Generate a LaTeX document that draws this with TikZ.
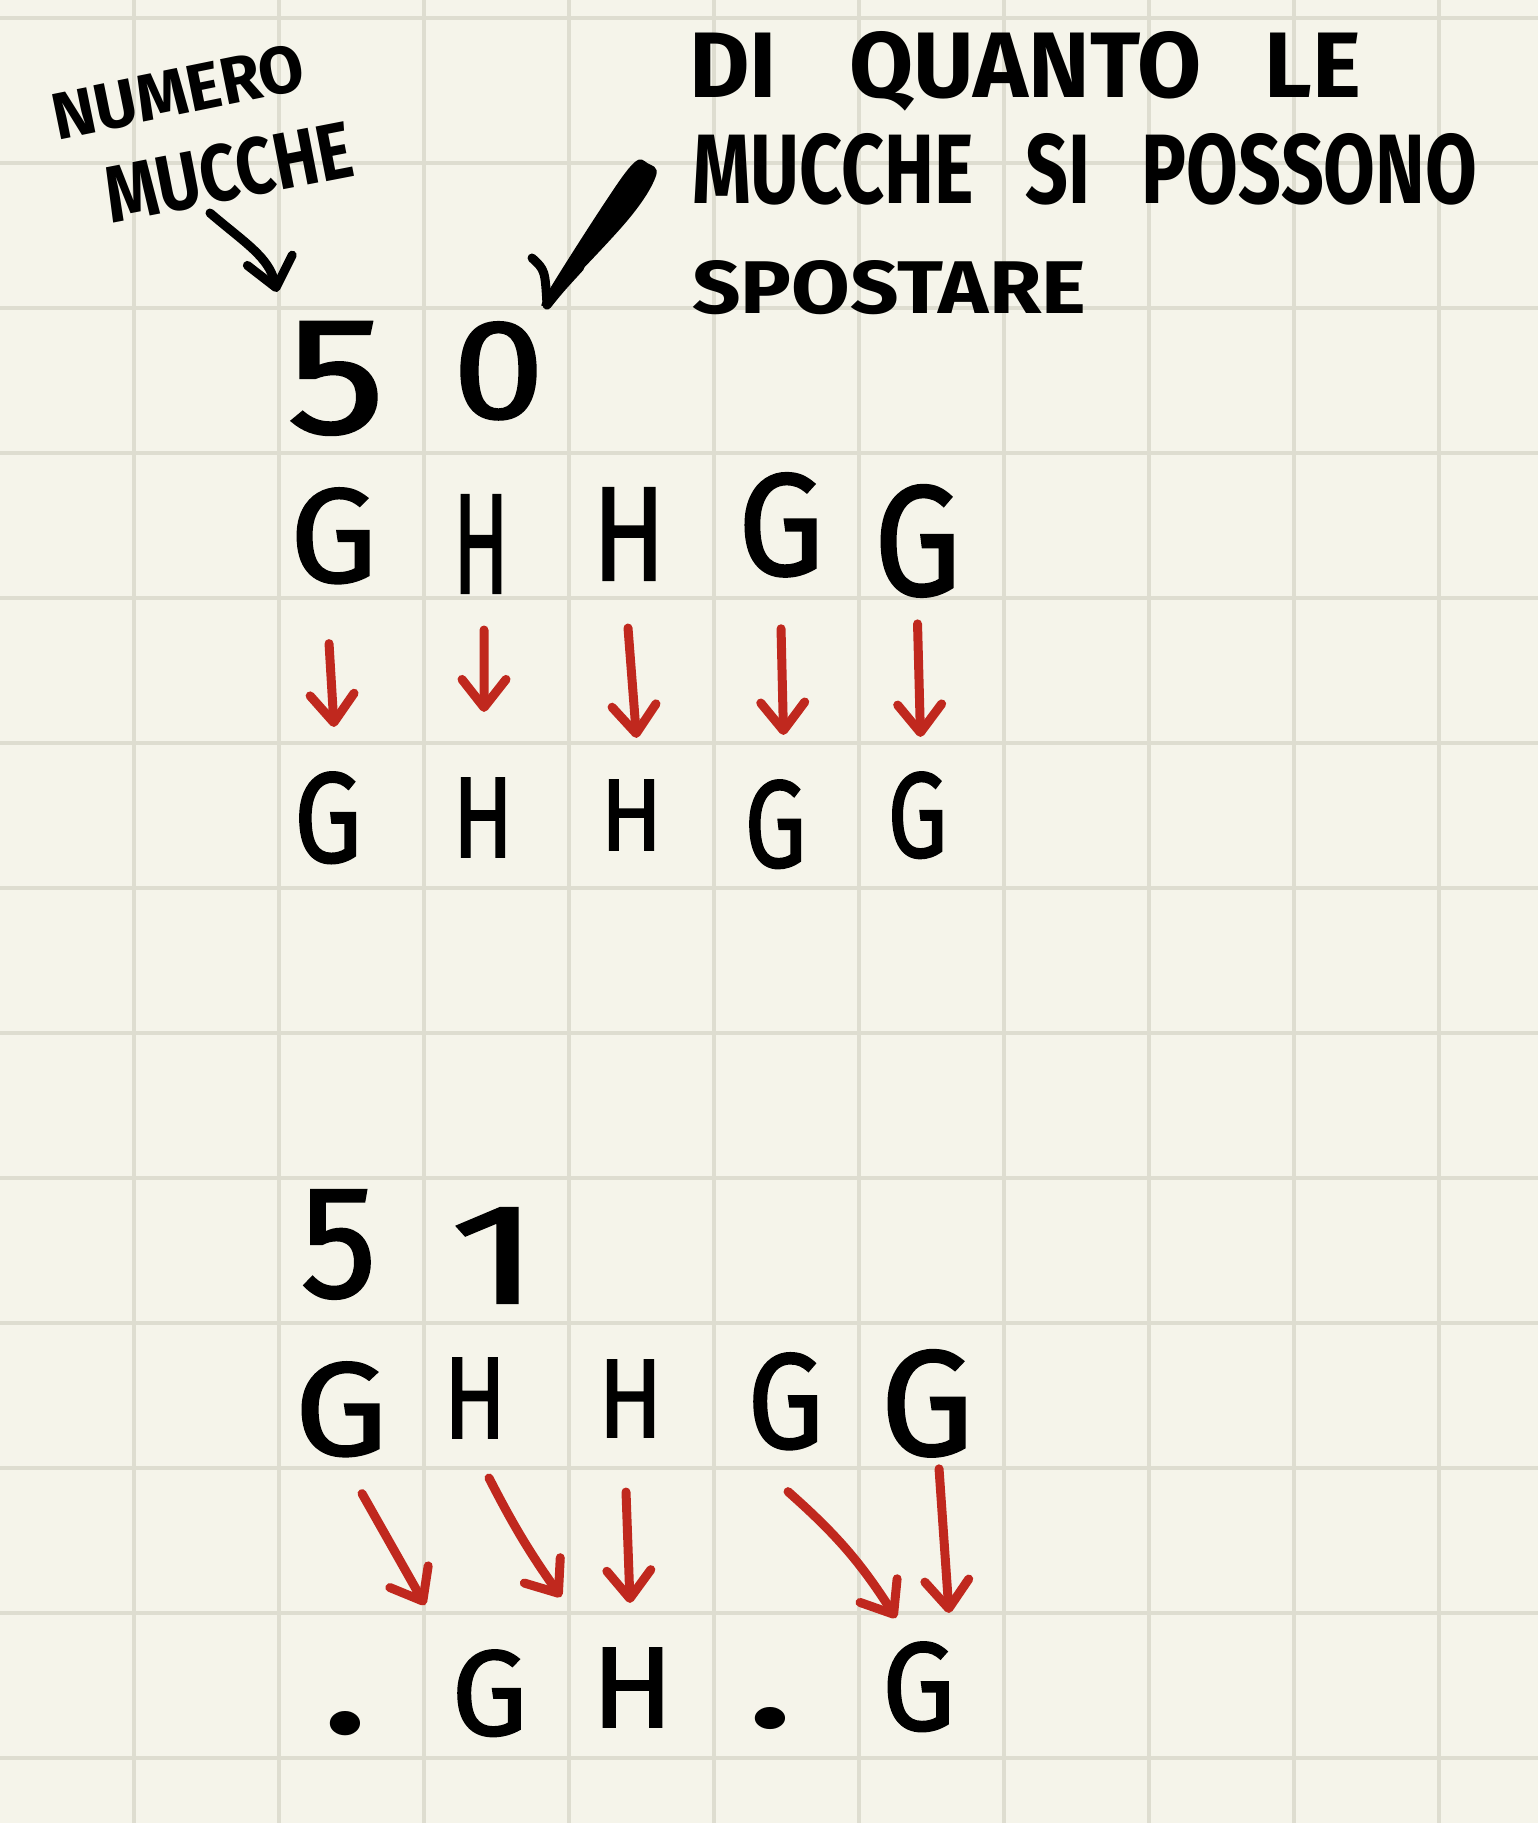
\documentclass[tikz,border=0pt]{standalone}
\usepackage{fontspec}
\setmainfont{Fira Sans}
\usetikzlibrary{arrows.meta,calc}
\definecolor{paper}{RGB}{245,244,234}
\definecolor{gridc}{RGB}{222,221,208}
\definecolor{inkred}{RGB}{192,40,30}
\newcommand\fb[3]{\resizebox{#1pt}{#2pt}{#3}}
\begin{document}
\begin{tikzpicture}[x=1pt,y=-1pt,
  hand/.style={inner sep=0pt, outer sep=0pt, anchor=base west, font=\bfseries},
  glyph/.style={inner sep=0pt, outer sep=0pt, anchor=base west, font=\addfontfeature{FakeBold=1.5}},
  tilted/.style={inner sep=0pt, outer sep=0pt, anchor=center, font=\bfseries},
  redarr/.style={draw=inkred, line width=9pt, line cap=round, -{Straight Barb[length=28pt,width=44pt,round]}},
  blackarr/.style={draw=black, line width=9pt, line cap=round, -{Straight Barb[length=28pt,width=46pt,round]}},
  gridline/.style={draw=gridc, line width=4pt}]
\fill[paper] (0,0) rectangle (1538,1823);
\useasboundingbox (0,0) rectangle (1538,1823);
\foreach \i in {0,...,9} \draw[gridline] (133.5+145*\i,0) -- (133.5+145*\i,1823);
\foreach \j in {0,...,12} \draw[gridline] (0,17.5+145*\j) -- (1538,17.5+145*\j);

% labels
\node[tilted, rotate=11.5] (numero) at (178,92) {\fb{256}{47}{NUMERO}};
\node[tilted, rotate=11] (mucche) at (229,172) {\fb{250}{57}{MUCCHE}};
\node[hand] (q1) at (689,97) {\fb{672}{66}{DI\ \hspace{0.55em}QUANTO\ \hspace{0.45em}LE}};
\node[hand] (q2) at (692,203) {\fb{785}{70}{MUCCHE\ \hspace{0.45em}SI\ \hspace{0.45em}POSSONO}};
\node[hand] (q3) at (692,313) {\fb{394}{53}{SPOSTARE}};

% first example
\node[glyph] (fivea) at (287,433) {\fb{98}{111}{5}};
\node[glyph] (zero) at (452.5,418) {\fb{92}{96}{0}};
\node[glyph] (r1c1) at (290,582) {\fb{87}{94}{G}};
\node[glyph] (r1c2) at (453,593) {\fb{56}{98}{H}};
\node[glyph] (r1c3) at (592.5,580) {\fb{73}{92}{H}};
\node[glyph] (r1c4) at (738,575) {\fb{86}{102}{G}};
\node[glyph] (r1c5) at (874,595) {\fb{87}{110}{G}};
\node[glyph] (r2c1) at (294,862) {\fb{68}{90}{G}};
\node[glyph] (r2c2) at (452.5,857) {\fb{61}{79}{H}};
\node[glyph] (r2c3) at (600.5,850) {\fb{62}{70}{H}};
\node[glyph] (r2c4) at (744.5,867) {\fb{62}{87}{G}};
\node[glyph] (r2c5) at (887.5,857) {\fb{60}{85}{G}};

% second example
\node[glyph] (fiveb) at (300.5,1297) {\fb{76}{107}{5}};
\node[glyph] (one) at (450,1303) {\fb{90}{95}{1}};
\node[glyph] (r3c1) at (294.5,1455) {\fb{93}{93}{G}};
\node[glyph] (r3c2) at (443.5,1438) {\fb{63}{80}{H}};
\node[glyph] (r3c3) at (598,1437) {\fb{65}{77}{H}};
\node[glyph] (r3c4) at (747.5,1448) {\fb{76}{95}{G}};
\node[glyph] (r3c5) at (880.5,1455) {\fb{93}{105}{G}};
\node[hand] (r5c1) at (325,1733) {\fb{40}{22}{.}};
\node[glyph] (r5c2) at (451.5,1735) {\fb{76}{85}{G}};
\node[glyph] (r5c3) at (591.5,1727) {\fb{82}{79}{H}};
\node[hand] (r5c4) at (750,1727) {\fb{40}{20}{.}};
\node[glyph] (r5c5) at (882,1730) {\fb{73}{88}{G}};

% black arrows
\draw[blackarr] ($(mucche.center)+(-19,41)$) .. controls +(35,30) and +(-8,-35) .. ($(fivea.north)+(-59,-30)$);
\coordinate (chkTop) at ($(q2.west)+(-49,1)$);
\coordinate (chkTip) at ($(zero.north)+(48.5,-17)$);
\fill[black] plot[smooth cycle, tension=0.6] coordinates {
  ($(chkTop)+(4.6,-6.5)$) ($(chkTop)+(13,6)$) ($(chkTop)+(-15,50)$)
  ($(chkTip)+(5,-4)$) ($(chkTip)+(1,-2)$) ($(chkTip)+(-2,-8)$)
  ($(chkTop)+(-39,34)$) ($(chkTop)+(-9,-7)$)};
\draw[black, line width=9pt, line cap=round, line join=round]
  ($(chkTip)+(-15,-47)$) .. controls ($(chkTip)+(-2,-35)$) .. (chkTip)
  .. controls ($(chkTip)+(12,-15)$) .. ($(chkTip)+(33,-38)$);

% red arrows, first example
\draw[redarr] ($(r1c1.south)+(-4.5,60)$) -- ($(r2c1.north)+(6,-45)$);
\draw[redarr] ($(r1c2.south)+(3,37)$) -- ($(r2c2.north)+(1,-66)$);
\draw[redarr] ($(r1c3.south)+(-1,48)$) -- ($(r2c3.north)+(5,-42)$);
\draw[redarr] ($(r1c4.south)+(0,52)$) -- ($(r2c4.north)+(8,-45)$);
\draw[redarr] ($(r1c5.south)+(0,27)$) -- ($(r2c5.north)+(3,-35)$);

% red arrows, second example
\draw[redarr] ($(r3c1.south)+(21,37)$) -- ($(r5c2.north)+(-64.5,-45)$);
\draw[redarr] ($(r3c2.south)+(14,40)$) to[bend right=4] ($(r5c3.north)+(-71.5,-51)$);
\draw[redarr] ($(r3c3.south)+(-4.5,55)$) -- ($(r5c3.north)+(-2.5,-45)$);
\draw[redarr] ($(r3c4.south)+(2.5,42)$) to[bend left=8] ($(r5c5.north)+(-22.5,-24)$);
\draw[redarr] ($(r3c5.south)+(12,12)$) -- ($(r5c5.north)+(30.5,-29)$);
\end{tikzpicture}
\end{document}
